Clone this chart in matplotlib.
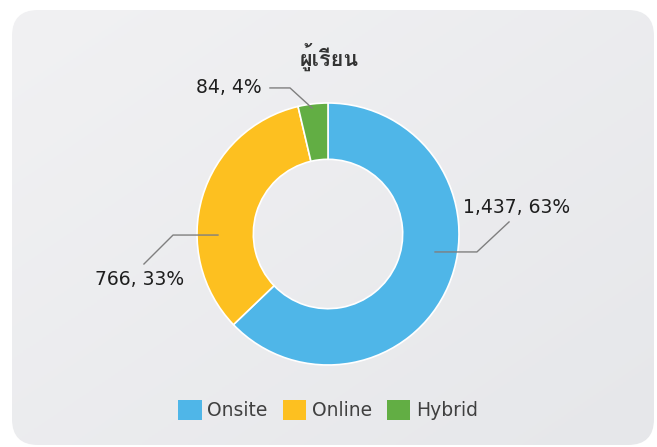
import matplotlib
matplotlib.use("Agg")
import matplotlib.pyplot as plt
from matplotlib import font_manager
from matplotlib.ft2font import FT2Font
from matplotlib.patches import FancyBboxPatch, Patch
import numpy as np

title = "ผู้เรียน"
categories = ["Onsite", "Online", "Hybrid"]
values = [1437, 766, 84]
colors = ["#4FB6E8", "#FDC020", "#62AE44"]


def find_thai_font():
    # look for any installed font that has Thai glyphs
    for f in font_manager.fontManager.ttflist:
        try:
            cmap = FT2Font(f.fname).get_charmap()
        except Exception:
            continue
        if 0x0E1C in cmap and 0x0E35 in cmap:
            return f.name
    return "DejaVu Sans"


thai_font = find_thai_font()

W, H = 657, 447
fig = plt.figure(figsize=(W / 100, H / 100), dpi=100)
fig.patch.set_facecolor("white")

# background card with soft gradient
bg = fig.add_axes([0, 0, 1, 1])
bg.set_xlim(0, W)
bg.set_ylim(H, 0)
bg.axis("off")
gx, gy = np.meshgrid(np.linspace(0, 1, 200), np.linspace(0, 1, 200))
grad = (gx + gy) / 2
img = bg.imshow(grad, extent=[12, 654, 445, 10], cmap=matplotlib.colors.LinearSegmentedColormap.from_list(
    "card", ["#F1F1F3", "#E6E7EA"]), aspect="auto", zorder=0)
card = FancyBboxPatch((12, 10), 642, 435, boxstyle="round,pad=0,rounding_size=26",
                      facecolor="none", edgecolor="none", transform=bg.transData)
bg.add_patch(card)
img.set_clip_path(card)

# donut
cx, cy, r = 328, 234, 131
ax = fig.add_axes([(cx - r) / W, (H - cy - r) / H, 2 * r / W, 2 * r / H])
ax.axis("off")
wedges, _ = ax.pie(values, colors=colors, startangle=90, counterclock=False, radius=1,
                   wedgeprops=dict(width=0.43, edgecolor="white", linewidth=1.2))
ax.set_xlim(-1, 1)
ax.set_ylim(-1, 1)

total = sum(values)
label_text = [f"{v:,}, {round(v / total * 100)}%" for v in values]

# leader lines (data coords of the pie axes) and label positions
leaders = [
    [(0.817, -0.137), (1.137, -0.137), (1.382, 0.092)],
    [(-0.840, -0.008), (-1.183, -0.008), (-1.405, -0.229)],
    [(-0.122, 0.962), (-0.29, 1.115), (-0.443, 1.115)],
]
label_pos = [(1.443, 0.206), (-1.435, -0.351), (-0.755, 1.115)]
for pts, txt, pos in zip(leaders, label_text, label_pos):
    xs, ys = zip(*pts)
    ax.plot(xs, ys, color="#7F7F7F", lw=1, clip_on=False)
    ax.text(pos[0], pos[1], txt, ha="center", va="center", fontsize=13.5,
            color="#1E1E1E", family="DejaVu Sans", clip_on=False)

fig.text(329 / W, 1 - 57 / H, title, ha="center", va="center", fontsize=15.5,
         fontweight="bold", color="#333333", family=[thai_font, "DejaVu Sans"])

handles = [Patch(facecolor=c, edgecolor="none") for c in colors]
fig.legend(handles, categories, loc="center", bbox_to_anchor=(328 / W, 1 - 410 / H),
           ncol=3, frameon=False, fontsize=13.5, labelcolor="#404040",
           handlelength=1.25, handleheight=1.25, handletextpad=0.3, columnspacing=0.8)

fig.savefig("out.png", dpi=100)
